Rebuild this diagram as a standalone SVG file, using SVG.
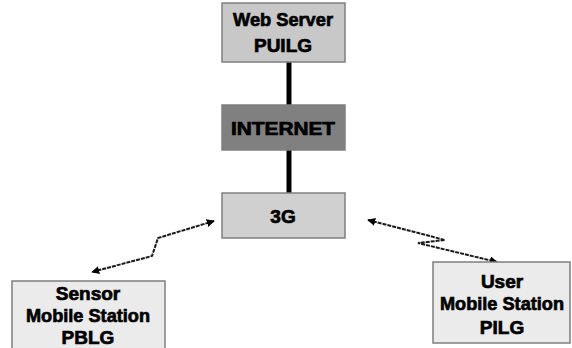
<svg xmlns="http://www.w3.org/2000/svg" width="572" height="348" viewBox="0 0 572 348">
<defs>
<style>
.box{stroke:#7f7f7f;stroke-width:1.5}
.t{font-family:"Liberation Sans",Arial,sans-serif;font-weight:bold;font-size:19px;fill:#000;stroke:#000;stroke-width:0.7;text-anchor:middle}
.bar{stroke:#000;stroke-width:5}
.zz{fill:none;stroke:#1a1a1a;stroke-width:2;stroke-dasharray:4 1}
</style>
<marker id="ah" viewBox="0 0 10 10" refX="9" refY="5" markerWidth="8" markerHeight="8" orient="auto-start-reverse" markerUnits="userSpaceOnUse">
<path d="M0,0 L10,5 L0,10 z" fill="#000"/>
</marker>
</defs>
<rect width="572" height="348" fill="#fff"/>
<g id="connectors">
<line class="bar" x1="289" y1="62" x2="289" y2="105"/>
<line class="bar" x1="289" y1="150" x2="289" y2="193"/>
<polyline class="zz" points="214,221 158,238 152,256 92,272" marker-start="url(#ah)" marker-end="url(#ah)"/>
<polyline class="zz" points="368,220 445,240 418,243 497,262" marker-start="url(#ah)" marker-end="url(#ah)"/>
</g>
<g id="webserver">
<rect class="box" x="222" y="3" width="123" height="59" fill="#c8c8c8"/>
<text class="t" x="283" y="26" textLength="100" lengthAdjust="spacingAndGlyphs">Web Server</text>
<text class="t" x="283" y="52">PUILG</text>
</g>
<g id="internet">
<rect class="box" x="222" y="105" width="123" height="45" fill="#808080"/>
<text class="t" x="283" y="135" textLength="104" lengthAdjust="spacingAndGlyphs">INTERNET</text>
</g>
<g id="g3">
<rect class="box" x="222" y="193" width="123" height="45" fill="#d0d0d0"/>
<text class="t" x="283" y="223">3G</text>
</g>
<g id="sensor">
<rect class="box" x="12" y="281" width="153" height="80" fill="#ebebeb"/>
<text class="t" x="88" y="300">Sensor</text>
<text class="t" x="88" y="322" textLength="124" lengthAdjust="spacingAndGlyphs">Mobile Station</text>
<text class="t" x="88" y="344">PBLG</text>
</g>
<g id="user">
<rect class="box" x="433" y="262" width="137" height="81" fill="#ebebeb"/>
<text class="t" x="502" y="288">User</text>
<text class="t" x="502" y="310" textLength="124" lengthAdjust="spacingAndGlyphs">Mobile Station</text>
<text class="t" x="502" y="334">PILG</text>
</g>
</svg>
